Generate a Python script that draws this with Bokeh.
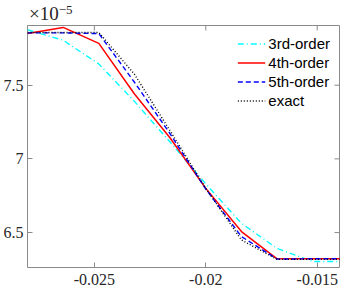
from bokeh.plotting import figure
from bokeh.models import Range1d, FixedTicker, Legend, LegendItem, Div
from bokeh.layouts import column
from bokeh.embed import file_html
from bokeh.resources import INLINE

# data (values in units of 1e-5)
x = [-0.028, -0.0264, -0.0248, -0.0232, -0.0216, -0.0200, -0.0184, -0.0168, -0.0152, -0.0136]
third_order = [7.876, 7.805, 7.644, 7.39, 7.114, 6.83, 6.563, 6.392, 6.304, 6.304]
fourth_order = [7.851, 7.892, 7.784, 7.44, 7.142, 6.80, 6.507, 6.322, 6.322, 6.322]
fifth_order = [7.855, 7.855, 7.85, 7.52, 7.17, 6.795, 6.473, 6.32, 6.322, 6.322]
exact = [7.858, 7.858, 7.858, 7.574, 7.19, 6.80, 6.45, 6.318, 6.318, 6.318]

x_ticks = [-0.025, -0.02, -0.015]
x_tick_labels = ["-0.025", "-0.02", "-0.015"]
y_ticks = [6.5, 7.0, 7.5]
y_tick_labels = ["6.5", "7", "7.5"]

X0, X1 = -0.028, -0.014
Y0, Y1 = 6.263, 7.905

AX = "#8a8a8a"
TXT = "#262626"
SERIF = "Liberation Serif"

p = figure(width=346, height=263, output_backend="svg", toolbar_location=None,
           x_range=Range1d(X0, X1), y_range=Range1d(Y0, Y1),
           min_border_left=22, min_border_right=7, min_border_top=1, min_border_bottom=19)
p.background_fill_color = "white"
p.border_fill_color = "white"
p.outline_line_color = AX
p.outline_line_width = 1
p.grid.visible = False

for ax in (p.xaxis[0], p.yaxis[0]):
    ax.axis_line_color = None
    ax.major_tick_line_color = AX
    ax.major_tick_in = 5
    ax.major_tick_out = 0
    ax.minor_tick_line_color = None
    ax.major_label_text_color = TXT
    ax.major_label_text_font = SERIF
    ax.major_label_text_font_size = "16px"
p.xaxis.major_label_standoff = 6
p.yaxis.major_label_standoff = 4

p.xaxis.ticker = FixedTicker(ticks=x_ticks)
p.xaxis.major_label_overrides = dict(zip(x_ticks, x_tick_labels))
p.yaxis.ticker = FixedTicker(ticks=y_ticks)
p.yaxis.major_label_overrides = dict(zip(y_ticks, y_tick_labels))

# mirrored ticks on top and right edges (half of each dash is clipped by the frame)
p.scatter(x_ticks, [Y1] * len(x_ticks), marker="dash", angle=1.5708, size=10,
          line_color=AX, line_width=1)
p.scatter([X1] * len(y_ticks), y_ticks, marker="dash", size=10,
          line_color=AX, line_width=1)

r3 = p.line(x, third_order, line_color="#00ffff", line_width=1.4, line_dash="6 3 1 3")
r4 = p.line(x, fourth_order, line_color="#ff0000", line_width=1.5)
r5 = p.line(x, fifth_order, line_color="#0000ff", line_width=1.4, line_dash="5 3")
re = p.line(x, exact, line_color="#000000", line_width=1.4, line_dash="1 2")

legend = Legend(items=[LegendItem(label="3rd-order", renderers=[r3]),
                       LegendItem(label="4th-order", renderers=[r4]),
                       LegendItem(label="5th-order", renderers=[r5]),
                       LegendItem(label="exact", renderers=[re])],
                location="top_right")
legend.border_line_color = None
legend.background_fill_color = "white"
legend.background_fill_alpha = 1.0
legend.label_text_font = "Liberation Sans"
legend.label_text_font_size = "15px"
legend.label_text_color = "#000000"
legend.glyph_width = 28
legend.glyph_height = 19
legend.label_height = 19
legend.label_standoff = 3
legend.spacing = 0
legend.margin = 9
legend.padding = 2
p.add_layout(legend, "center")

exp_div = Div(
    text=("<div style=\"font-family:'Liberation Serif';font-size:19px;color:#262626;"
          "line-height:15px;height:14px;margin-left:24px;padding-top:1px;white-space:nowrap\">"
          "×10<sup style=\"font-size:13px;vertical-align:6px;line-height:0\">−5</sup></div>"),
    width=120, height=14, styles={"height": "14px", "overflow": "visible"})

layout = column(exp_div, p, spacing=0)
open("out.html", "w").write(file_html(layout, INLINE))
